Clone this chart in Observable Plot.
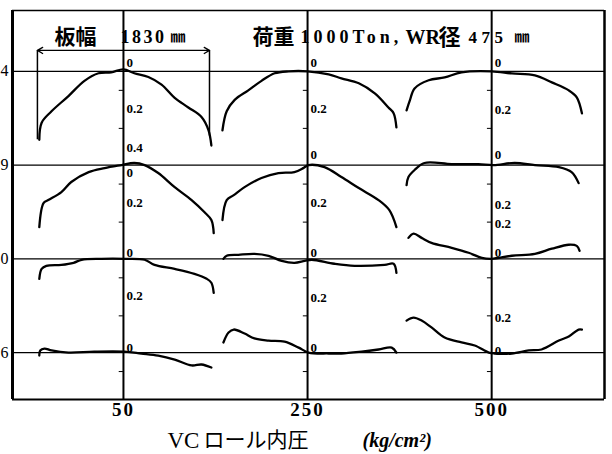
<!DOCTYPE html>
<html><head><meta charset="utf-8">
<script src="https://cdn.jsdelivr.net/npm/d3@7"></script>
<script src="https://cdn.jsdelivr.net/npm/@observablehq/plot@0.6"></script>
<style>html,body{margin:0;padding:0;background:#fff;} #chart svg{display:block;background:#fff}</style>
</head><body><div id="chart"></div>
<script>
// ---- data ----
const pressures = [50, 250, 500];          // VC roll internal pressure (kg/cm2)
const rowLabels = ["4", "9", "0", "6"];
const plateWidth = 1830;                    // mm
// profiles: [position from strip centre (mm), deviation from centre (mm, + = downward)]
const r1_50  = [[-895,0.36],[-870,0.27],[-765,0.21],[-585,0.13],[-415,0.05],[-265,0.01],[-130,0.005],[0,-0.01],[115,0.01],[265,0.03],[405,0.07],[545,0.14],[690,0.19],[830,0.24],[905,0.31],[935,0.39]];
const r1_250 = [[-905,0.31],[-860,0.21],[-775,0.15],[-630,0.10],[-490,0.05],[-350,0.01],[-200,0],[0,0],[225,0.016],[360,0.037],[545,0.063],[715,0.116],[860,0.19],[915,0.22],[945,0.295]];
const r1_500 = [[-905,0.205],[-870,0.153],[-820,0.09],[-670,0.047],[-500,0.032],[-320,0.005],[0,0],[215,0.011],[460,0.021],[640,0.058],[820,0.1],[905,0.137],[960,0.221]];
const r2_50  = [[-895,0.326],[-850,0.2],[-800,0.184],[-660,0.142],[-555,0.089],[-370,0.037],[-200,0.016],[-20,0],[115,-0.011],[225,0],[370,0.042],[545,0.116],[725,0.184],[860,0.247],[935,0.289],[960,0.358]];
const r2_250 = [[-905,0.289],[-860,0.184],[-785,0.158],[-670,0.116],[-490,0.068],[-310,0.042],[-140,0.037],[-45,0.016],[10,0],[180,0.011],[360,0.063],[545,0.121],[755,0.184],[870,0.237],[945,0.326]];
const r2_500 = [[-905,0.105],[-885,0.063],[-820,0.026],[-715,-0.011],[-425,-0.005],[-140,-0.005],[20,0],[245,-0.011],[460,0],[715,0.011],[850,0.037],[925,0.095]];
const r3_50  = [[-895,0.105],[-870,0.053],[-820,0.037],[-660,0.032],[-530,0.021],[-445,0.005],[-235,0],[10,0],[225,0.005],[330,0.032],[545,0.053],[755,0.079],[885,0.105],[935,0.126],[960,0.179]];
const r3_250 = [[-895,0],[-860,-0.016],[-735,-0.021],[-565,-0.026],[-415,-0.016],[-275,0.011],[-140,0.021],[-30,0.011],[45,0.005],[285,0.026],[500,0.037],[820,0.032],[915,0.026],[945,0.074]];
const r3_500 = [[-885,-0.11],[-830,-0.132],[-745,-0.11],[-640,-0.084],[-425,-0.058],[-245,-0.032],[-105,-0.005],[0,0],[215,-0.016],[460,-0.026],[640,-0.053],[820,-0.074],[905,-0.068],[935,-0.042]];
const r4_50  = [[-895,0.016],[-885,-0.011],[-840,-0.021],[-765,-0.011],[-585,0],[-310,-0.005],[10,-0.005],[190,0.005],[370,0.016],[545,0.037],[725,0.068],[830,0.063],[935,0.079]];
const r4_250 = [[-895,-0.053],[-840,-0.105],[-785,-0.121],[-670,-0.1],[-565,-0.074],[-415,-0.063],[-245,-0.058],[-95,-0.026],[10,0],[225,0.005],[360,0.005],[575,-0.005],[755,-0.016],[895,-0.026],[945,0]];
const r4_500 = [[-905,-0.168],[-830,-0.184],[-745,-0.168],[-640,-0.132],[-500,-0.079],[-320,-0.053],[-180,-0.037],[-30,0],[30,0.005],[215,0.005],[395,-0.011],[530,-0.016],[715,-0.063],[820,-0.084],[925,-0.121],[960,-0.121]];
// scale annotations on the centre lines
const scaleLabelCol  = [0,0,0, 1,1, 2,2, 0,0, 1,1, 2,2, 0,0, 1,1, 2,2, 0, 1, 2,2];
const scaleLabelRow  = [0,0,0, 0,0, 0,0, 1,1, 1,1, 1,1, 2,2, 2,2, 2,2, 3, 3, 3,3];
const scaleLabelDev  = [-0.047,0.195,0.4, -0.047,0.195, -0.047,0.205, 0.042,0.2, -0.053,0.2, -0.053,0.21, -0.032,0.195, -0.032,0.205, -0.184,-0.032, -0.026, -0.026, -0.184,-0.01];
const scaleLabelText = ["0","0.2","0.4", "0","0.2", "0","0.2", "0","0.2", "0","0.2", "0","0.2", "0","0.2", "0","0.2", "0.2","0", "0", "0", "0.2","0"];
const minorTickDev = [0.1, 0.3];

// ---- layout of the small-multiple grid (data units) ----
const SPAN = 1958;   // mm of strip width between panel centres
const ROW = 0.493;   // mm of deviation between row baselines
const grid = [[r1_50, r1_250, r1_500],[r2_50, r2_250, r2_500],[r3_50, r3_250, r3_500],[r4_50, r4_250, r4_500]];
const pts = [];
grid.forEach((row, r) => row.forEach((arr, c) => arr.forEach(([p, d]) =>
  pts.push({id: r + "-" + c, x: c * SPAN + p, y: r * ROW + d}))));
const lbls = scaleLabelText.map((t, i) => ({t, x: scaleLabelCol[i] * SPAN, y: scaleLabelRow[i] * ROW + scaleLabelDev[i]}));
const ticks = [];
pressures.forEach((_, c) => rowLabels.forEach((_, r) => minorTickDev.forEach(o => {
  if (r * ROW + o < 3 * ROW + 0.2) ticks.push({x1: c * SPAN - 45, x2: c * SPAN, y: r * ROW + o});
})));
const half = plateWidth / 2, BR_Y = -0.11;

const X0 = -1180, X1 = 2 * SPAN + 1200, Y0 = -0.32, Y1 = 3 * ROW + 0.247;
const serif = "Liberation Serif, Times New Roman, serif";
const cjk = "Noto Sans CJK JP, sans-serif";
const hdr = (text, dx, font, size, extra = {}) =>
  Plot.text([text], {frameAnchor: "top-left", dx, dy: 27, text: d => d, textAnchor: "start", lineAnchor: "middle",
    fontFamily: font, fontSize: size, fontWeight: "bold", fill: "black", ...extra});
const foot = (text, dx, font, size, extra = {}) =>
  Plot.text([text], {frameAnchor: "bottom-left", dx, dy: 41, text: d => d, textAnchor: "start", lineAnchor: "middle",
    fontFamily: font, fontSize: size, fill: "black", ...extra});

const chart = Plot.plot({
  width: 612, height: 454,
  marginLeft: 12, marginRight: 8, marginTop: 10, marginBottom: 55,
  x: {domain: [X0, X1], axis: null},
  y: {domain: [Y0, Y1], reverse: true, axis: null},
  style: {background: "white"},
  marks: [
    // baselines and centre lines
    Plot.ruleY(rowLabels, {y: (d, i) => i * ROW, stroke: "black", strokeWidth: 1.2}),
    Plot.ruleX(pressures, {x: (d, i) => i * SPAN, stroke: "black", strokeWidth: 2}),
    Plot.ruleY(ticks, {y: "y", x1: "x1", x2: "x2", stroke: "black", strokeWidth: 1}),
    // frame
    Plot.ruleX([X0], {stroke: "black", strokeWidth: 3}),
    Plot.ruleX([X1], {stroke: "black", strokeWidth: 2.5}),
    Plot.ruleY([Y0], {stroke: "black", strokeWidth: 1.5}),
    Plot.ruleY([Y1], {stroke: "black", strokeWidth: 2}),
    // profile curves
    Plot.line(pts, {x: "x", y: "y", z: "id", stroke: "black", strokeWidth: 2.3, curve: "catmull-rom"}),
    // plate width bracket
    Plot.arrow([-half, half], {x1: 0, x2: d => d, y1: BR_Y, y2: BR_Y, headLength: 7, stroke: "black", strokeWidth: 1.3}),
    Plot.ruleX([[-half, 0.36], [half, 0.34]], {x: d => d[0], y1: BR_Y, y2: d => d[1], stroke: "black", strokeWidth: 1.5}),
    // centre-line scale labels
    Plot.text(lbls, {x: "x", y: "y", text: "t", dx: 3, textAnchor: "start", fontFamily: serif, fontSize: 13, fontWeight: "bold", fill: "black"}),
    // row labels (left edge)
    Plot.text(rowLabels, {frameAnchor: "left", y: (d, i) => i * ROW, text: d => d, dx: -4, textAnchor: "end", fontFamily: serif, fontSize: 16, fill: "black"}),
    // x tick labels
    Plot.text(pressures, {x: (d, i) => i * SPAN, frameAnchor: "bottom", dy: 16, text: d => String(d), fontFamily: serif, fontSize: 19, fontWeight: "bold", fill: "black"}),
    // header
    hdr("板幅", 42, cjk, 21),
    hdr("1830", 108, serif, 18),
    hdr("㎜", 158, cjk, 15),
    hdr("荷重", 240, cjk, 21),
    hdr("1000Ton,", 288, serif, 18),
    hdr("WR", 393, serif, 20),
    hdr("径", 426, cjk, 22),
    hdr("475", 456, serif, 17),
    hdr("㎜", 502, cjk, 15),
    // axis title
    foot("VC", 155, serif, 23),
    foot("ロール内圧", 191, cjk, 21),
    foot("(kg/cm²)", 350, serif, 20, {fontStyle: "italic", fontWeight: "bold"})
  ]
});
const spacing = {"1830": 2.5, "1000Ton,": 4, "475": 4.5, "50": 2, "250": 2, "500": 2};
d3.select(chart).selectAll("text").each(function () {
  const t = this.textContent;
  if (spacing[t] != null) this.setAttribute("letter-spacing", spacing[t]);
});
document.getElementById("chart").appendChild(chart);
</script>
</body></html>
